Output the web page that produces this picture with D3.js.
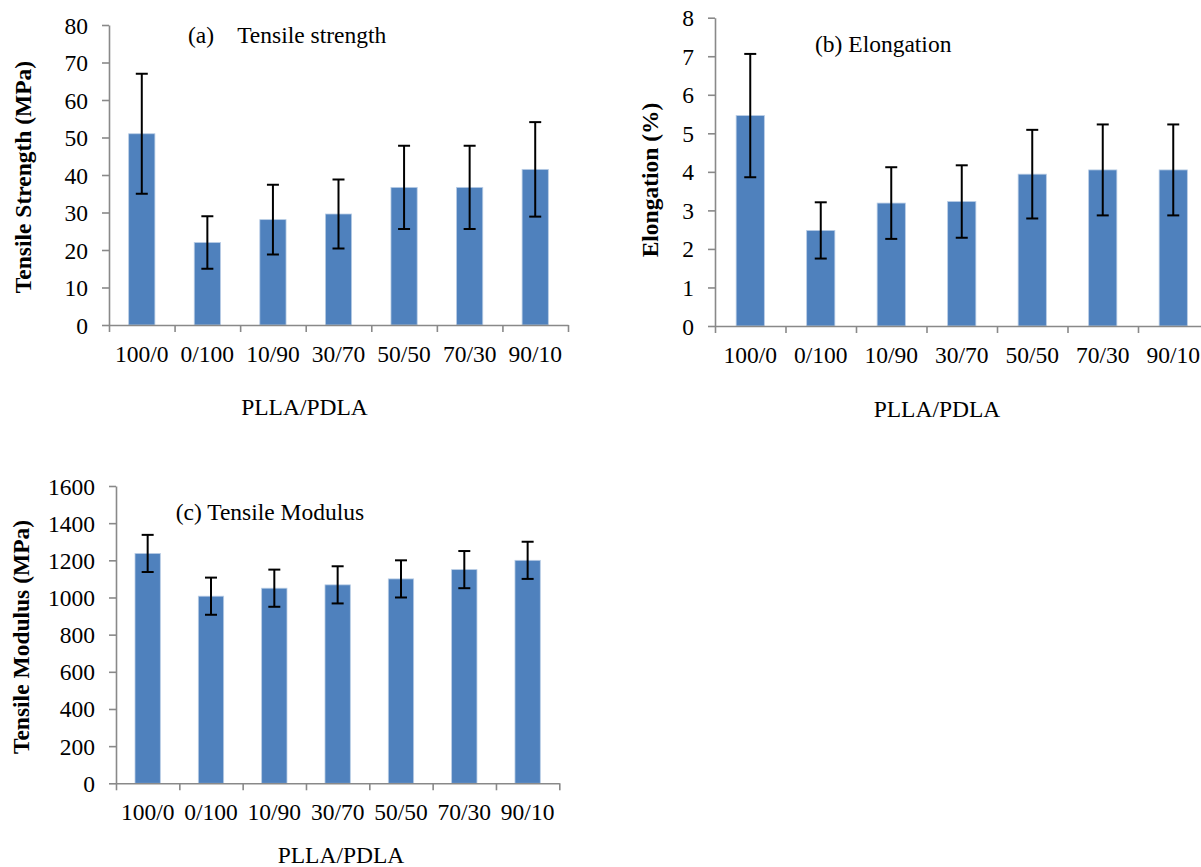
<!DOCTYPE html>
<html lang="en">
<head>
<meta charset="utf-8">
<title>PLLA/PDLA tensile properties</title>
<script src="https://cdn.jsdelivr.net/npm/d3@7"></script>
<style>
  html, body { margin: 0; padding: 0; background: #fff; }
  svg { display: block; }
  text { font-family: "Liberation Serif", "Times New Roman", serif; fill: #000; }
</style>
</head>
<body>
<div id="chart"></div>
<script>
// categories (PLLA/PDLA ratio)
var categories = ["100/0", "0/100", "10/90", "30/70", "50/50", "70/30", "90/10"];

// (a) tensile strength, MPa
var strengthMean = [51, 22, 28.1, 29.6, 36.7, 36.7, 41.5];
var strengthErr  = [16, 7, 9.3, 9.2, 11.1, 11.1, 12.6];

// (b) elongation, %
var elongMean = [5.46, 2.48, 3.19, 3.23, 3.94, 4.05, 4.05];
var elongErr  = [1.6, 0.73, 0.93, 0.94, 1.15, 1.18, 1.18];

// (c) tensile modulus, MPa
var modulusMean = [1237, 1007, 1050, 1068, 1100, 1150, 1200];
var modulusErr  = [100, 100, 100, 100, 100, 100, 100];

// y tick values
var strengthTicks = d3.range(0, 81, 10);
var elongTicks = d3.range(0, 9, 1);
var modulusTicks = d3.range(0, 1601, 200);

var W = 1201, H = 867;
var FONT = 23.5;
var barColor = "#4f81bd";
var axisColor = "#898989";

var svg = d3.select("#chart").append("svg")
  .attr("width", W)
  .attr("height", H);

// layout of the three panels
var panels = [
  { mean: strengthMean, err: strengthErr, ticks: strengthTicks,
    x0: 109, x1: 568, yTop: 25, yBottom: 325,
    title: "(a)    Tensile strength", tx: 188, ty: 43,
    yTitle: "Tensile Strength (MPa)", ytx: 23, yty: 177,
    xtx: 304.5, xty: 415 },
  { mean: elongMean, err: elongErr, ticks: elongTicks,
    x0: 715, x1: 1208.5, yTop: 17.7, yBottom: 326,
    title: "(b) Elongation", tx: 815, ty: 52,
    yTitle: "Elongation (%)", ytx: 650, yty: 180,
    xtx: 937, xty: 417 },
  { mean: modulusMean, err: modulusErr, ticks: modulusTicks,
    x0: 116, x1: 559.3, yTop: 486, yBottom: 783.3,
    title: "(c) Tensile Modulus", tx: 175.7, ty: 520,
    yTitle: "Tensile Modulus (MPa)", ytx: 20.5, yty: 637,
    xtx: 341, xty: 863 }
];

panels.forEach(function(p) {
  var g = svg.append("g");

  var yMax = d3.max(p.ticks);
  var y = d3.scaleLinear().domain([0, yMax]).range([p.yBottom, p.yTop]);

  // category bands (for labels) and bars (40% of band, centred)
  var xCat = d3.scaleBand().domain(categories).range([p.x0, p.x1]).padding(0);
  var xBar = d3.scaleBand().domain(categories).range([p.x0, p.x1])
    .paddingInner(0.6).paddingOuter(0.3);
  var xIdx = d3.scaleLinear().domain([0, categories.length]).range([p.x0, p.x1]);

  // bars
  g.selectAll("rect.bar")
    .data(categories)
    .join("rect")
    .attr("class", "bar")
    .attr("x", function(d) { return xBar(d); })
    .attr("width", xBar.bandwidth())
    .attr("y", function(d, i) { return y(p.mean[i]); })
    .attr("height", function(d, i) { return y(0) - y(p.mean[i]); })
    .attr("fill", barColor)
    .attr("stroke", "#b9cde5")
    .attr("stroke-width", 0.8);

  // y axis
  var yAxis = g.append("g")
    .attr("transform", "translate(" + p.x0 + ",0)")
    .call(d3.axisLeft(y).tickValues(p.ticks).tickFormat(d3.format("d"))
      .tickSize(7).tickSizeOuter(0).tickPadding(14));
  yAxis.attr("font-size", null).attr("font-family", null);
  yAxis.selectAll("text").style("font-size", FONT + "px").attr("dy", "0.34em");

  // x axis: ticks at band boundaries
  var xAxis = g.append("g")
    .attr("transform", "translate(0," + p.yBottom + ")")
    .call(d3.axisBottom(xIdx).tickValues(d3.range(0, categories.length + 1))
      .tickSize(7).tickSizeOuter(0).tickFormat(""));
  xAxis.attr("font-size", null).attr("font-family", null);

  [yAxis, xAxis].forEach(function(a) {
    a.select(".domain").attr("stroke", axisColor).attr("stroke-width", 1.6);
    a.selectAll(".tick line").attr("stroke", axisColor).attr("stroke-width", 1.6);
  });

  // category labels
  g.selectAll("text.cat")
    .data(categories)
    .join("text")
    .attr("class", "cat")
    .attr("x", function(d) { return xCat(d) + xCat.bandwidth() / 2; })
    .attr("y", p.yBottom + 37)
    .attr("text-anchor", "middle")
    .style("font-size", FONT + "px")
    .text(function(d) { return d; });

  // error bars
  var eb = g.selectAll("g.err")
    .data(categories)
    .join("g")
    .attr("class", "err")
    .attr("stroke", "#000")
    .attr("stroke-width", 2);
  var cx = function(d) { return xBar(d) + xBar.bandwidth() / 2; };
  eb.append("line")
    .attr("x1", cx).attr("x2", cx)
    .attr("y1", function(d, i) { return y(p.mean[i] + p.err[i]); })
    .attr("y2", function(d, i) { return y(p.mean[i] - p.err[i]); });
  eb.append("line")
    .attr("x1", function(d) { return cx(d) - 6; })
    .attr("x2", function(d) { return cx(d) + 6; })
    .attr("y1", function(d, i) { return y(p.mean[i] + p.err[i]); })
    .attr("y2", function(d, i) { return y(p.mean[i] + p.err[i]); });
  eb.append("line")
    .attr("x1", function(d) { return cx(d) - 6; })
    .attr("x2", function(d) { return cx(d) + 6; })
    .attr("y1", function(d, i) { return y(p.mean[i] - p.err[i]); })
    .attr("y2", function(d, i) { return y(p.mean[i] - p.err[i]); });

  // panel title
  g.append("text")
    .attr("x", p.tx)
    .attr("y", p.ty)
    .style("font-size", FONT + "px")
    .style("white-space", "pre")
    .attr("xml:space", "preserve")
    .text(p.title);

  // y axis title
  g.append("text")
    .attr("transform", "translate(" + p.ytx + "," + p.yty + ") rotate(-90)")
    .attr("text-anchor", "middle")
    .attr("dy", "0.35em")
    .style("font-size", FONT + "px")
    .style("font-weight", "bold")
    .text(p.yTitle);

  // x axis title
  g.append("text")
    .attr("x", p.xtx)
    .attr("y", p.xty)
    .attr("text-anchor", "middle")
    .style("font-size", FONT + "px")
    .text("PLLA/PDLA");
});
</script>
</body>
</html>
